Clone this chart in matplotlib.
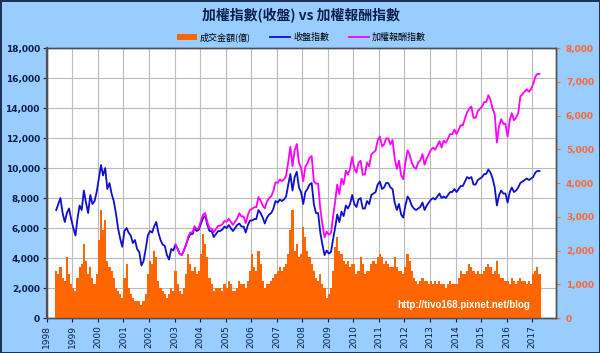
import matplotlib
matplotlib.use("Agg")
import matplotlib.pyplot as plt
import matplotlib.dates as mdates
import pandas as pd

plt.rcParams['font.family'] = ['DejaVu Sans', 'Noto Sans CJK TC']

# monthly readings, May 1998 .. Apr 2017
close_index = [
    7200, 7600, 8000, 7000, 6400, 7000, 7300, 6600,                        # 1998
    6000, 5500, 6600, 7500, 7200, 8500, 7700, 7000, 8200, 7600, 7800, 8400,  # 1999
    9300, 10200, 9500, 10000, 8600, 9000, 8300, 7800, 7000, 6000, 5300, 4750,  # 2000
    5800, 6000, 5700, 5500, 5000, 5200, 4600, 4400, 3500, 3800, 4600, 5500,  # 2001
    5800, 5700, 6100, 6400, 5700, 5200, 4900, 4800, 4200, 3900, 4600, 4500,  # 2002
    4900, 4600, 4300, 4200, 4500, 4900, 5300, 5600, 5600, 6000, 5800, 5900,  # 2003
    6300, 6700, 6800, 6200, 5800, 5800, 5400, 5600, 5800, 5800, 5900, 6100,  # 2004
    6000, 6200, 6000, 5800, 6000, 6200, 6300, 6100, 6100, 5700, 6200, 6500,  # 2005
    6500, 6600, 6600, 7200, 7000, 6700, 6300, 6700, 6900, 7000, 7300, 7800,  # 2006
    7700, 7900, 7800, 7900, 8100, 8900, 9600, 8500, 9400, 9750, 8700, 8400,  # 2007
    7600, 8400, 8600, 8900, 9000, 7600, 7000, 7000, 5700, 4900, 4200, 4500,  # 2008
    4300, 4400, 5200, 6000, 6900, 6400, 7100, 6800, 7500, 7300, 7600, 8200,  # 2009
    7600, 7400, 7900, 8000, 7300, 7300, 7800, 7600, 8200, 8300, 8400, 8900,  # 2010
    9100, 8600, 8700, 9000, 9000, 8700, 8600, 7700, 7200, 7600, 6900, 6700,  # 2011
    7500, 8100, 7900, 7500, 7300, 7200, 7300, 7400, 7700, 7200, 7500, 7700,  # 2012
    7900, 8000, 7900, 8100, 8300, 8000, 8100, 8000, 8200, 8400, 8400, 8600,  # 2013
    8400, 8600, 8800, 8800, 9100, 9400, 9300, 9400, 8900, 8900, 9200, 9300,  # 2014
    9400, 9600, 9600, 9900, 9700, 9300, 8700, 7500, 8200, 8500, 8300, 8300,  # 2015
    7700, 8400, 8700, 8400, 8500, 8700, 9000, 9100, 9200, 9300, 9200, 9300,  # 2016
    9400, 9700, 9800, 9800,                                                  # 2017
]

# monthly readings, Jan 2003 .. Apr 2017
return_index = [
    4900, 4600, 4300, 4200, 4500, 4900, 5400, 5710, 5710, 6120, 5920, 6020,  # 2003
    6490, 6900, 7000, 6390, 5970, 5970, 5720, 5940, 6150, 6150, 6250, 6470,  # 2004
    6420, 6630, 6420, 6210, 6420, 6630, 6990, 6770, 6770, 6330, 6880, 7220,  # 2005
    7280, 7390, 7390, 8060, 7840, 7500, 7310, 7770, 8000, 8120, 8470, 9050,  # 2006
    9010, 9240, 9130, 9240, 9480, 10410, 11420, 10120, 11190, 11600, 10350, 10000,  # 2007
    9120, 10080, 10320, 10680, 10800, 9120, 8960, 8960, 7300, 6270, 5380, 5760,  # 2008
    5550, 5680, 6710, 7740, 8900, 8260, 9300, 8910, 9830, 9560, 9960, 10740,  # 2009
    9960, 9690, 10350, 10480, 9560, 9560, 10370, 10110, 10910, 11040, 11170, 11840,  # 2010
    12100, 11440, 11570, 11970, 11970, 11570, 11870, 10630, 9940, 10490, 9520, 9250,  # 2011
    10350, 11180, 10900, 10350, 10070, 9940, 10370, 10510, 10930, 10220, 10650, 10930,  # 2012
    11220, 11360, 11220, 11500, 11790, 11360, 11830, 11680, 11970, 12260, 12260, 12560,  # 2013
    12260, 12560, 12850, 12850, 13290, 13720, 13950, 14100, 13350, 13350, 13800, 13950,  # 2014
    14100, 14400, 14400, 14850, 14550, 13950, 13570, 11700, 12790, 13260, 12950, 12950,  # 2015
    12090, 13190, 13660, 13190, 13350, 13660, 14760, 14920, 15090, 15250, 15090, 15250,  # 2016
    15600, 16100, 16270, 16270,                                              # 2017
]

# turnover (億), monthly readings, May 1998 .. Apr 2017
turnover = [
    1400, 1300, 1500, 1200, 1100, 1800, 1300, 1000,
    900, 800, 1200, 1500, 1600, 2200, 1700, 1300, 1500, 1200, 1000, 1300,
    2300, 3200, 2600, 2900, 1700, 1500, 1400, 1200, 900, 800, 700, 600,
    1200, 1600, 900, 700, 600, 500, 500, 500, 400, 500, 700, 1300,
    1700, 1600, 2000, 1800, 1100, 900, 800, 700, 600, 700, 900, 800,
    1400, 1000, 800, 700, 900, 1300, 1900, 1600, 1400, 1500, 1300, 1400,
    1900, 2500, 2200, 1800, 1200, 1000, 800, 900, 900, 900, 800, 1000,
    900, 1100, 1000, 800, 800, 900, 1100, 1000, 1000, 900, 1100, 1400,
    1900, 1500, 1400, 2000, 1600, 1100, 900, 1000, 1000, 1100, 1200, 1300,
    1400, 1500, 1400, 1500, 1600, 1900, 2600, 3200, 2000, 2200, 1800, 1900,
    2700, 2400, 2000, 1800, 1600, 1400, 1200, 1100, 1300, 1000, 900, 600,
    700, 900, 1400, 2100, 2400, 2000, 1900, 1700, 1600, 1700, 1500, 1600,
    1600, 1300, 1400, 1800, 1600, 1300, 1400, 1400, 1600, 1700, 1600, 1800,
    1900, 1800, 1600, 1700, 1600, 1500, 1500, 1800, 1500, 1400, 1400, 1300,
    1500, 1900, 1700, 1400, 1200, 1100, 1000, 1100, 1200, 1100, 1100, 1000,
    1100, 1000, 1100, 1000, 1100, 1000, 1000, 900, 1000, 1100, 1000, 1000,
    1000, 1200, 1400, 1300, 1300, 1400, 1600, 1500, 1400, 1300, 1400, 1300,
    1300, 1400, 1500, 1600, 1500, 1300, 1400, 1700, 1300, 1200, 1200, 1100,
    1100, 1000, 1200, 1100, 1000, 1100, 1200, 1100, 1100, 1000, 1100, 1000,
    1300, 1400, 1500, 1300,
]

months = pd.date_range('1998-05-01', '2017-04-01', freq='MS') + pd.Timedelta(days=14)
months_ret = pd.date_range('2003-01-01', '2017-04-01', freq='MS') + pd.Timedelta(days=14)

navy = '#0A1F4D'
fig = plt.figure(figsize=(6, 3.53), dpi=100, facecolor='#99CCFF',
                 edgecolor='#1F3050', linewidth=2)

rect = [0.078, 0.099, 0.849, 0.765]
ax = fig.add_axes(rect, zorder=0)
ax.set_facecolor('white')
ax2 = ax.twinx()
ax2.set_zorder(1)
ax2.patch.set_visible(False)
ax3 = fig.add_axes(rect, sharex=ax, sharey=ax, zorder=2)
ax3.patch.set_visible(False)
ax3.axis('off')

bars = ax2.bar(months, turnover, width=31, color='#FF6600', linewidth=0,
               label='成交金額(億)')
l1, = ax3.plot(months, close_index, color='#1010CC', lw=1.3, label='收盤指數')
l2, = ax3.plot(months_ret, return_index, color='#FF00FF', lw=1.3, label='加權報酬指數')

ax.set_xlim(pd.Timestamp('1998-01-01'), pd.Timestamp('2017-12-10'))
ax.set_ylim(0, 18000)
ax.set_yticks(range(0, 18001, 2000))
ax.set_yticklabels([f'{v:,}' for v in range(0, 18001, 2000)])
ax2.set_ylim(0, 8000)
ax2.set_yticks(range(0, 8001, 1000))
ax2.set_yticklabels([f'{v:,}' for v in range(0, 8001, 1000)])

ax.xaxis.set_major_locator(mdates.YearLocator())
ax.xaxis.set_major_formatter(mdates.DateFormatter('%Y'))
ax.grid(True, color='#BBBBBB', lw=0.8)

for lab in ax.get_xticklabels():
    lab.set_rotation(90)
ax.tick_params(axis='x', labelsize=6.5, colors=navy, length=3, pad=2)
ax.tick_params(axis='y', labelsize=6.5, colors=navy, length=3, pad=2)
ax2.tick_params(axis='y', labelsize=6.5, colors='#FF6633', length=3, pad=4)
for lab in ax.get_yticklabels():
    lab.set_fontweight('bold')
for lab in ax2.get_yticklabels():
    lab.set_fontweight('bold')
for a in (ax, ax2):
    for s in a.spines.values():
        s.set_color('#505050')
        s.set_linewidth(1)
ax2.spines['left'].set_linewidth(1.6)

fig.text(0.502, 0.957, '加權指數(收盤) vs 加權報酬指數', ha='center', va='center',
         fontsize=10, fontweight='bold', color=navy,
         family=['Noto Sans CJK TC', 'DejaVu Sans'])

fig.legend(handles=[bars, l1, l2], loc='center', bbox_to_anchor=(0.502, 0.895),
           ncol=3, frameon=False, handlelength=2.2, handleheight=0.6,
           columnspacing=2.2, handletextpad=0.3,
           prop={'family': ['Noto Sans CJK TC', 'DejaVu Sans'], 'size': 6.5})

ax3.text(0.95, 0.03, 'http://tivo168.pixnet.net/blog', transform=ax.transAxes,
         ha='right', va='bottom', color='white', fontsize=7, fontweight='bold',
         family='Liberation Sans')

fig.savefig('out.png', dpi=100, facecolor=fig.get_facecolor(),
            edgecolor=fig.get_edgecolor())
